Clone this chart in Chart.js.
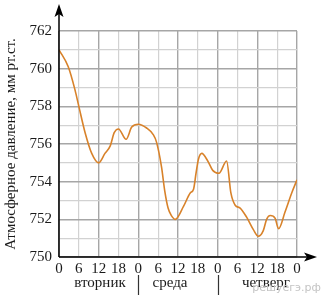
<!DOCTYPE html>
<html>
<head>
<meta charset="utf-8">
<script src="https://cdn.jsdelivr.net/npm/chart.js@4/dist/chart.umd.min.js"></script>
<style>
  html, body { margin: 0; padding: 0; background: #fff; }
  #wrap { width: 323px; height: 301px; }
</style>
</head>
<body>
<div id="wrap"><canvas id="chart"></canvas></div>
<script>
// hours since tuesday 0:00
const hours = [0, 2.8, 4.8, 6, 7.9, 9.9, 12, 13.9, 15.5, 16.7, 18, 20.3, 22, 24,
  26.5, 28.5, 29.5, 31, 32, 33, 34, 35.2, 37.7, 39.7, 40.7, 41.5, 42.2, 43.2, 45, 46.5,
  48.4, 50.7, 52, 53.3, 54.8, 56.8, 58.8, 60.3, 61.8, 62.8, 63.9, 65.4, 66.4, 68.4, 70.4, 72]
const pressure = [761, 760.1, 758.9, 758, 756.6, 755.5, 755.0, 755.5, 755.9, 756.6, 756.8, 756.25, 756.9, 757.05,
  756.85, 756.5, 756.1, 754.8, 753.5, 752.6, 752.2, 752.0, 752.7, 753.4, 753.6, 754.5, 755.2, 755.5, 755.1, 754.6,
  754.45, 755.1, 753.4, 752.75, 752.6, 752.1, 751.45, 751.1, 751.4, 752.0, 752.2, 752.05, 751.5, 752.4, 753.4, 754.1]
const dayNames = ['вторник', 'среда', 'четверг']
const yLabel = 'Атмосферное давление, мм рт.ст.'
const watermark = 'решуегэ.рф'

Chart.defaults.font.family = 'Liberation Serif'
Chart.defaults.font.size = 15
Chart.defaults.color = '#1a1a1a'

const decorations = {
  id: 'decorations',
  afterDraw(chart) {
    const {ctx, chartArea: a} = chart
    const x = chart.scales.x
    ctx.save()
    // axes with arrows
    ctx.strokeStyle = '#000'
    ctx.lineWidth = 1.5
    ctx.beginPath()
    ctx.moveTo(a.left, a.bottom)
    ctx.lineTo(a.left, 10)
    ctx.moveTo(a.left, a.bottom)
    ctx.lineTo(312, a.bottom)
    ctx.stroke()
    ctx.fillStyle = '#000'
    ctx.beginPath()
    ctx.moveTo(a.left, 4)
    ctx.lineTo(a.left - 4.5, 17)
    ctx.lineTo(a.left, 14)
    ctx.lineTo(a.left + 4.5, 17)
    ctx.closePath()
    ctx.fill()
    ctx.beginPath()
    ctx.moveTo(317, a.bottom)
    ctx.lineTo(304, a.bottom - 4.5)
    ctx.lineTo(307, a.bottom)
    ctx.lineTo(304, a.bottom + 4.5)
    ctx.closePath()
    ctx.fill()
    // day names and separators
    ctx.font = '15px "Liberation Serif"'
    ctx.fillStyle = '#1a1a1a'
    ctx.textAlign = 'center'
    ctx.textBaseline = 'alphabetic'
    const centers = [12.4, 33.6, 62.6]
    dayNames.forEach((d, i) => ctx.fillText(d, x.getPixelForValue(centers[i]), 287))
    ctx.strokeStyle = '#333'
    ctx.lineWidth = 1.2
    ctx.beginPath()
    ;[24, 48].forEach(h => {
      const px = Math.round(x.getPixelForValue(h)) + 0.5
      ctx.moveTo(px, 275)
      ctx.lineTo(px, 295)
    })
    ctx.stroke()
    ctx.font = '11px "DejaVu Sans"'
    ctx.fillStyle = '#c4c4c4'
    ctx.textAlign = 'right'
    ctx.fillText(watermark, 321, 291)
    ctx.restore()
  }
}

new Chart(document.getElementById('chart'), {
  type: 'line',
  data: {
    datasets: [{
      data: hours.map((h, i) => ({x: h, y: pressure[i]})),
      borderColor: '#d8822a',
      borderWidth: 1.6,
      pointRadius: 0,
      cubicInterpolationMode: 'monotone',
      fill: false
    }]
  },
  options: {
    responsive: true,
    maintainAspectRatio: false,
    animation: false,
    layout: {padding: {top: 31, right: 26, left: 0, bottom: 0}},
    plugins: {legend: {display: false}, tooltip: {enabled: false}},
    scales: {
      x: {
        type: 'linear',
        min: 0,
        max: 72,
        afterFit: s => { s.height = 44 },
        ticks: {stepSize: 6, padding: 3, maxRotation: 0, autoSkip: false, callback: v => v % 24},
        grid: {
          drawTicks: false,
          color: c => c.tick && c.tick.value % 12 === 0 ? '#a6a6a6' : '#d2d2d2',
          lineWidth: c => c.tick && c.tick.value % 12 === 0 ? 1.4 : 1.2
        },
        border: {display: false}
      },
      y: {
        min: 750,
        max: 762,
        afterFit: s => { s.width = 59 },
        ticks: {stepSize: 1, padding: 7, autoSkip: false, callback: v => v % 2 === 0 ? v : ''},
        grid: {
          drawTicks: false,
          color: c => c.tick && c.tick.value % 2 === 0 ? '#a6a6a6' : '#d2d2d2',
          lineWidth: c => c.tick && c.tick.value % 2 === 0 ? 1.4 : 1.2
        },
        border: {display: false},
        title: {display: true, text: yLabel, font: {size: 15}, padding: {top: 2, bottom: 0}}
      }
    }
  },
  plugins: [decorations]
})
</script>
</body>
</html>
